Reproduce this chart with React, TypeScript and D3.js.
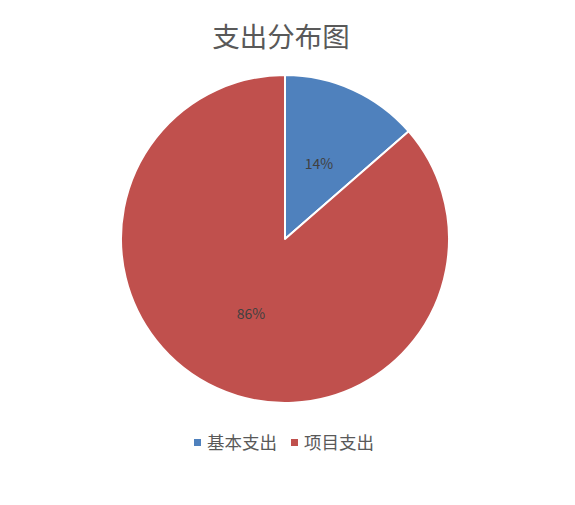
import { useEffect, useRef } from 'react';
import * as d3 from 'd3';

// 数据
const categories = ['基本支出', '项目支出'];
const values = [13.6, 86.4];
const colors = ['#4F81BD', '#C0504D'];
const chartTitle = '支出分布图';

const FONT = '"Noto Sans CJK SC", "Noto Sans", sans-serif';

export default function App() {
  const svgRef = useRef<SVGSVGElement>(null);
  const width = 575;
  const height = 505;

  useEffect(() => {
    if (!svgRef.current) return;
    const svg = d3.select(svgRef.current);
    svg.selectAll('*').remove();

    svg.append('rect')
      .attr('width', width)
      .attr('height', height)
      .attr('fill', '#ffffff');

    // 标题
    svg.append('text')
      .attr('x', 281)
      .attr('y', 47)
      .attr('text-anchor', 'middle')
      .attr('font-family', FONT)
      .attr('font-size', '27.5px')
      .attr('fill', '#595959')
      .text(chartTitle);

    const cx = 285;
    const cy = 239;
    const r = 164;

    const total = d3.sum(values);
    const pie = d3.pie<number>().sort(null).value(d => d);
    const arcs = pie(values);
    const arc = d3.arc<d3.PieArcDatum<number>>().innerRadius(0).outerRadius(r);
    const labelArc = d3.arc<d3.PieArcDatum<number>>().innerRadius(r * 0.5).outerRadius(r * 0.5);

    const g = svg.append('g').attr('transform', `translate(${cx},${cy})`);

    g.selectAll('path.slice')
      .data(arcs)
      .enter()
      .append('path')
      .attr('class', 'slice')
      .attr('d', arc)
      .attr('fill', (_d, i) => colors[i])
      .attr('stroke', '#ffffff')
      .attr('stroke-width', 2)
      .attr('stroke-linejoin', 'round');

    g.selectAll('text.lbl')
      .data(arcs)
      .enter()
      .append('text')
      .attr('class', 'lbl')
      .attr('transform', d => {
        const [x, y] = labelArc.centroid(d);
        return `translate(${x},${y})`;
      })
      .attr('text-anchor', 'middle')
      .attr('dy', '0.35em')
      .attr('font-family', FONT)
      .attr('font-size', '14px')
      .attr('fill', '#404040')
      .text(d => `${Math.round((d.data / total) * 100)}%`);

    // 图例
    const legend = svg.append('g').attr('transform', 'translate(194, 443)');
    const itemX = [0, 97];
    categories.forEach((name, i) => {
      const item = legend.append('g').attr('transform', `translate(${itemX[i]},0)`);
      item.append('rect')
        .attr('x', 0)
        .attr('y', -4)
        .attr('width', 7)
        .attr('height', 7)
        .attr('fill', colors[i]);
      item.append('text')
        .attr('x', 13)
        .attr('y', 0)
        .attr('dy', '0.35em')
        .attr('font-family', FONT)
        .attr('font-size', '17.5px')
        .attr('fill', '#595959')
        .text(name);
    });
  }, []);

  return (
    <svg
      ref={svgRef}
      width={width}
      height={height}
      style={{ position: 'absolute', left: 0, top: 0 }}
    />
  );
}
